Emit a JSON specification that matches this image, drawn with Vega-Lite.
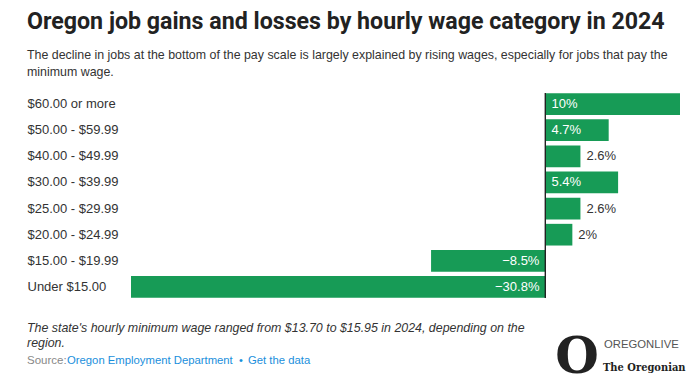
{
  "$schema": "https://vega.github.io/schema/vega-lite/v6.json",
  "autosize": "none",
  "width": 549,
  "height": 209,
  "padding": {"left": 131, "top": 91, "right": 19, "bottom": 92},
  "background": "white",
  "config": {"view": {"stroke": null}, "font": "Liberation Sans"},
  "title": {
    "text": "Oregon job gains and losses by hourly wage category in 2024",
    "subtitle": ["The decline in jobs at the bottom of the pay scale is largely explained by rising wages, especially for jobs that pay the", "minimum wage."],
    "anchor": "start",
    "frame": "group",
    "dx": -104,
    "offset": 11,
    "font": "Roboto",
    "fontSize": 23.2,
    "fontWeight": "bold",
    "color": "#222222",
    "subtitleFont": "Liberation Sans",
    "subtitleFontSize": 12.4,
    "subtitleColor": "#333333",
    "subtitleLineHeight": 17,
    "subtitlePadding": 15
  },
  "data": {
    "values": [
      {"category": "$60.00 or more", "value": 10, "label": "10%"},
      {"category": "$50.00 - $59.99", "value": 4.7, "label": "4.7%"},
      {"category": "$40.00 - $49.99", "value": 2.6, "label": "2.6%"},
      {"category": "$30.00 - $39.99", "value": 5.4, "label": "5.4%"},
      {"category": "$25.00 - $29.99", "value": 2.6, "label": "2.6%"},
      {"category": "$20.00 - $24.99", "value": 2, "label": "2%"},
      {"category": "$15.00 - $19.99", "value": -8.5, "label": "−8.5%"},
      {"category": "Under $15.00", "value": -30.8, "label": "−30.8%"}
    ]
  },
  "encoding": {
    "y": {
      "field": "category",
      "type": "nominal",
      "sort": null,
      "scale": {"paddingInner": 0.17, "paddingOuter": 0.085},
      "axis": {
        "title": null,
        "domain": false,
        "ticks": false,
        "labelAlign": "left",
        "labelPadding": 104,
        "labelFontSize": 13,
        "labelColor": "#333333",
        "labelLimit": 0,
        "labelFont": "Liberation Sans"
      }
    }
  },
  "layer": [
    {
      "mark": {"type": "bar", "color": "#179b56"},
      "encoding": {
        "x": {"field": "value", "type": "quantitative", "scale": {"domain": [-30.8, 10], "nice": false, "zero": false}, "axis": null}
      }
    },
    {
      "mark": {"type": "rule", "color": "#222222", "strokeWidth": 1},
      "encoding": {"x": {"datum": 0, "type": "quantitative"}, "y": {"value": 2}, "y2": {"value": 207}}
    },
    {
      "transform": [{"filter": "datum.value >= 4"}],
      "mark": {"type": "text", "align": "left", "dx": 6, "fontSize": 13, "color": "white"},
      "encoding": {"x": {"datum": 0, "type": "quantitative"}, "text": {"field": "label"}}
    },
    {
      "transform": [{"filter": "datum.value > 0 && datum.value < 4"}],
      "mark": {"type": "text", "align": "left", "dx": 6, "fontSize": 13, "color": "#333333"},
      "encoding": {"x": {"field": "value", "type": "quantitative"}, "text": {"field": "label"}}
    },
    {
      "transform": [{"filter": "datum.value < 0"}],
      "mark": {"type": "text", "align": "right", "dx": -6, "fontSize": 13, "color": "white"},
      "encoding": {"x": {"datum": 0, "type": "quantitative"}, "text": {"field": "label"}}
    },
    {
      "data": {"values": [{"t": ["The state's hourly minimum wage ranged from $13.70 to $15.95 in 2024, depending on the", "region."]}]},
      "mark": {"type": "text", "align": "left", "baseline": "middle", "x": -104, "y": 237, "fontSize": 12.4, "fontStyle": "italic", "color": "#333333", "lineHeight": 15},
      "encoding": {"text": {"field": "t"}, "y": null}
    },
    {
      "data": {"values": [{"t": "Source:"}]},
      "mark": {"type": "text", "align": "left", "baseline": "middle", "x": -104, "y": 270, "fontSize": 11.5, "color": "#888888"},
      "encoding": {"text": {"field": "t"}, "y": null}
    },
    {
      "data": {"values": [{"t": "Oregon Employment Department"}]},
      "mark": {"type": "text", "align": "left", "baseline": "middle", "x": -64, "y": 270, "fontSize": 11.3, "color": "#1a8fdc"},
      "encoding": {"text": {"field": "t"}, "y": null}
    },
    {
      "data": {"values": [{"t": "•"}]},
      "mark": {"type": "text", "align": "left", "baseline": "middle", "x": 108, "y": 270, "fontSize": 11, "color": "#1a8fdc"},
      "encoding": {"text": {"field": "t"}, "y": null}
    },
    {
      "data": {"values": [{"t": "Get the data"}]},
      "mark": {"type": "text", "align": "left", "baseline": "middle", "x": 117, "y": 270, "fontSize": 11.3, "color": "#1a8fdc"},
      "encoding": {"text": {"field": "t"}, "y": null}
    },
    {
      "data": {"values": [{"t": "O"}]},
      "mark": {"type": "text", "align": "center", "baseline": "middle", "x": 446, "y": 267, "fontSize": 50, "font": "DejaVu Serif", "fontWeight": "bold", "color": "#222222"},
      "encoding": {"text": {"field": "t"}, "y": null}
    },
    {
      "data": {"values": [{"t": "OREGONLIVE"}]},
      "mark": {"type": "text", "align": "left", "baseline": "middle", "x": 473, "y": 254, "fontSize": 11.3, "color": "#555555"},
      "encoding": {"text": {"field": "t"}, "y": null}
    },
    {
      "data": {"values": [{"t": "The Oregonian"}]},
      "mark": {"type": "text", "align": "left", "baseline": "middle", "x": 472, "y": 277, "fontSize": 11, "font": "DejaVu Serif Condensed, DejaVu Serif", "fontWeight": "bold", "color": "#222222"},
      "encoding": {"text": {"field": "t"}, "y": null}
    },
    {
      "data": {"values": [{"a": 1}]},
      "mark": {"type": "rule", "color": "#bbbbbb", "x": 473, "x2": 553, "y": 263, "y2": 263},
      "encoding": {"y": null}
    }
  ]
}
